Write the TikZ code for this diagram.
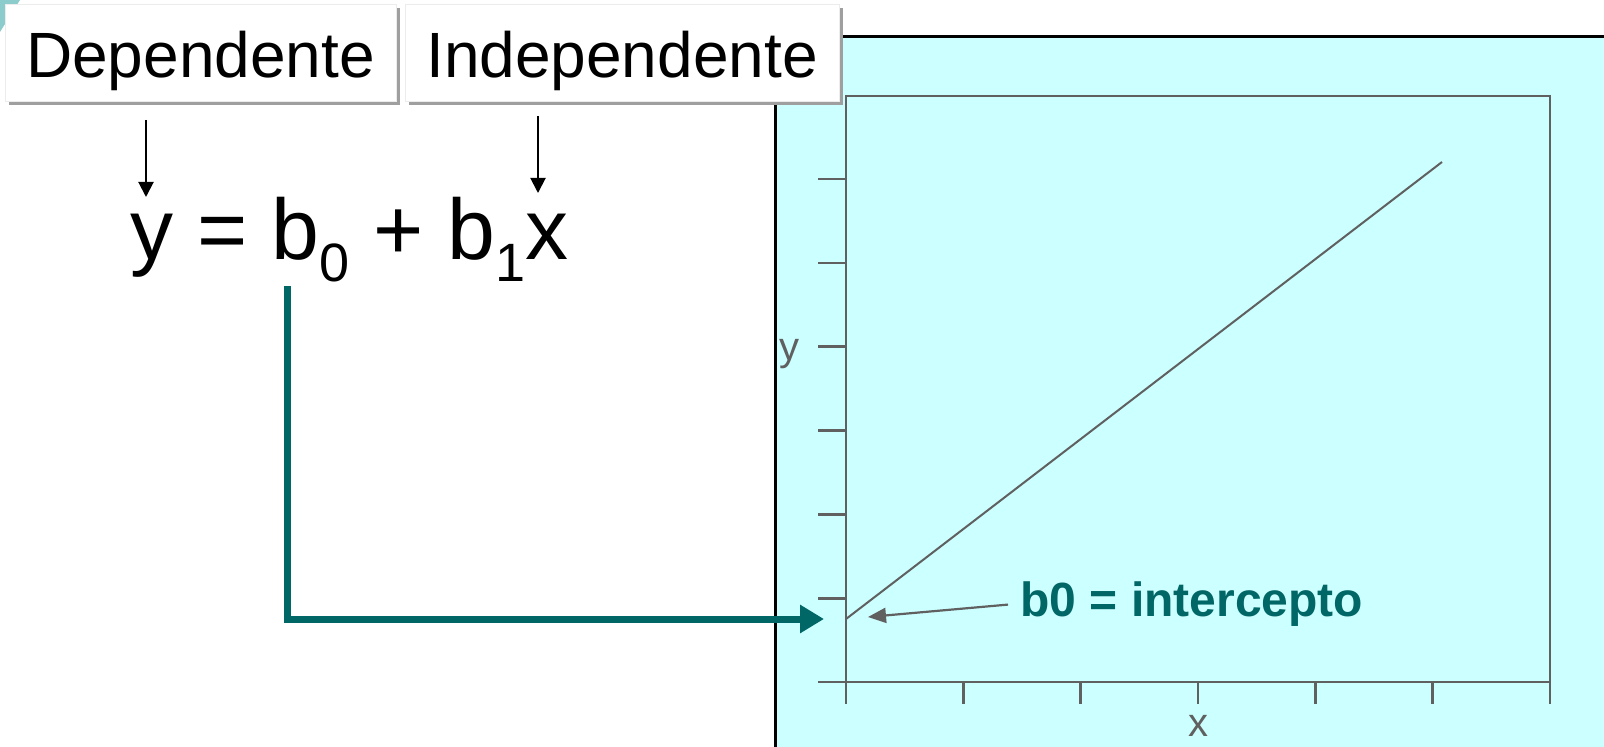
\documentclass[tikz,border=0pt]{standalone}
\usepackage{fontspec}
\setmainfont{Liberation Sans}
\usepackage{tikz}
\usetikzlibrary{arrows.meta, positioning, shadows}
\definecolor{panelcyan}{RGB}{204,255,255}
\definecolor{interteal}{RGB}{0,102,102}
\definecolor{axisgray}{RGB}{96,96,96}
\definecolor{cornerteal}{RGB}{140,204,204}
\newcommand{\lowsub}[1]{\raisebox{-11pt}{\fontsize{27}{30}\selectfont #1}}
\tikzstyle{labelbox} = [draw=gray!15, fill=white, line width=0.4pt, minimum height=48.5pt,
    text height=25.5pt, text depth=0pt, inner sep=0pt, font=\fontsize{32}{36}\selectfont,
    drop shadow={shadow xshift=2pt, shadow yshift=-2pt, fill=gray!75, opacity=1}]
\tikzstyle{downarrow} = [-{Triangle[length=7.5pt, width=7.5pt]}, line width=1pt, draw=black]
\tikzstyle{tealarrow} = [-{Triangle[length=12pt, width=13.5pt]}, line width=3.5pt, draw=interteal]
\tikzstyle{grayarrow} = [-{Triangle[length=9pt, width=7.5pt]}, line width=1.1pt, draw=axisgray]
\tikzstyle{axis} = [draw=axisgray, line width=1.3pt]
\tikzstyle{axislabel} = [font=\fontsize{20}{24}\selectfont, text=axisgray, inner sep=0pt]

\begin{document}
\begin{tikzpicture}[x=0.5pt, y=-0.5pt]
    \useasboundingbox (0,0) rectangle (1604,747);
    \fill[cornerteal] (0,0) -- (20,0) -- (0,32) -- cycle;
    % plot panel
    \fill[panelcyan] (775,37) rectangle (1604,747);
    \draw[line width=1.5pt] (775,747) -- (775,37) -- (1604,37);
    \draw[axis] (846,96) rectangle (1550,682);
    \foreach \k in {0,...,6} {
        \draw[axis] (818,{682-83.8*\k}) -- (846,{682-83.8*\k});
        \draw[axis] ({846+117.33*\k},682) -- ({846+117.33*\k},704);
    }
    \node[axislabel, anchor=base] (ylab) at (789,361) {y};
    \node[axislabel, anchor=base] (xlab) at (1198,736) {x};
    \coordinate (b0pt) at (846,619);
    \coordinate (lineend) at (1442,162);
    \draw[draw=axisgray, line width=1pt] (b0pt) -- (lineend);
    \node[font=\bfseries\fontsize{24}{28}\selectfont, text=interteal, anchor=base west,
        inner sep=0pt] (interc) at (1020,617) {b0 = intercepto};
    \coordinate (b0arrow) at (868,617);
    \draw[grayarrow] ([xshift=-6pt]interc.west) -- (b0arrow);
    % labels and equation
    \node[labelbox, minimum width=195.5pt] (dep) at (200.5,52.5) {Dependente};
    \node[labelbox, minimum width=217pt] (indep) at (622,52.5) {Independente};
    \node[font=\fontsize{43}{48}\selectfont, anchor=base west, inner sep=0pt] (eqn)
        at (130,260) {y = b\lowsub{0} + b\lowsub{1}x};
    \coordinate (ytop) at (146,120);
    \coordinate (ytip) at (146,197);
    \coordinate (xtop) at (538,116);
    \coordinate (xtip) at (538,193);
    \draw[downarrow] (ytop) -- (ytip);
    \draw[downarrow] (xtop) -- (xtip);
    \coordinate (b0top) at (287,286);
    \coordinate (b0tip) at (824,619);
    \draw[tealarrow] (b0top) |- (b0tip);
\end{tikzpicture}
\end{document}
